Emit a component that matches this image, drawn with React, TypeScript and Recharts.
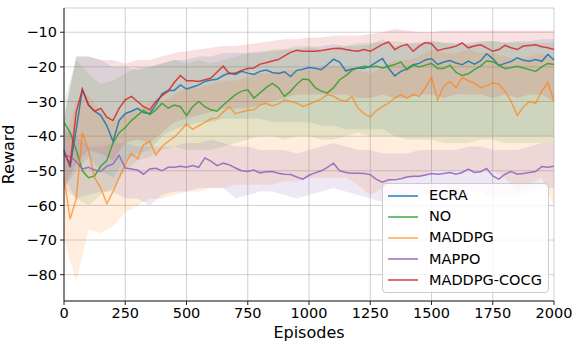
import { Area, CartesianGrid, ComposedChart, Line, XAxis, YAxis } from 'recharts'

// smoothed curves, one value every 25 episodes (0..2000)
const step = 25
const ecra = [
  -44, -49, -38, -26.5, -31, -32.8, -34, -37, -41.5, -35.5, -33.5, -32.8, -32, -33.2, -33.5, -31, -27.8, -26.8, -26.8, -25.2,
  -26.4, -25.8, -25.2, -24.2, -23.8, -23.6, -22.5, -21.8, -22.2, -21.3, -21.8, -22.2, -21.3, -20.9, -21.6, -21.9, -21.4, -22.8, -21, -20.7,
  -20.2, -20.4, -20.8, -19.4, -17.8, -18.6, -21.2, -20.6, -20.3, -20.4, -19.8, -18.6, -17.6, -20.4, -22.6, -21.3, -20.6, -19.4, -19, -18,
  -17.6, -19.3, -18.6, -18.2, -18.9, -19.4, -18.3, -19.2, -18.3, -16.2, -17.6, -19.6, -19, -18.4, -17.4, -18.1, -18.4, -17.9, -18.4, -16.4,
  -18,
]
const no = [
  -36, -39, -44, -50, -52, -51.5, -48.7, -47, -42, -39, -37.5, -35.5, -34, -32.5, -33.8, -32.4, -30.5, -31.9, -31, -31.5,
  -34, -31.5, -30, -31.5, -32.4, -32.8, -31, -29.5, -28, -27, -26.6, -29, -27.5, -26, -24.8, -26, -28.5, -27, -25, -23.5,
  -23.7, -26, -27, -27.5, -26, -23.7, -22.5, -21, -20.3, -19.8, -20, -19.8, -20.3, -19.8, -19.3, -18.6, -20.8, -19.5, -20, -19.5,
  -19, -20.5, -20.5, -19.5, -21.5, -22.5, -22, -20.8, -19.8, -18.3, -18.5, -19.5, -20.5, -20.2, -19.8, -20.3, -20.8, -21.3, -20, -19,
  -19.3,
]
const maddpg = [
  -52, -64, -58, -39, -44, -52, -55, -59.5, -56, -52, -48, -45, -46.5, -42.5, -41.5, -45.5, -43, -41.5, -40.3, -38.5,
  -36.5, -38, -37, -36, -35, -34.8, -33, -31.5, -33.5, -33, -32.6, -32.4, -31, -30.5, -31.3, -30.7, -29.5, -30, -30.4, -31.4,
  -30.8, -30, -29.3, -28, -28.5, -29.5, -30, -28.5, -31.9, -33.5, -34.5, -32.6, -31.5, -30.5, -29, -28, -29, -28, -28.5, -26,
  -23, -29.5, -25.6, -24.2, -26, -23, -24, -24.6, -26, -25.5, -24.5, -25, -27, -30, -34, -31.5, -30, -30.5, -27, -24.5,
  -30,
]
const mappo = [
  -45.3, -46, -47.3, -49.5, -49, -49.8, -50.2, -48.7, -48, -45.5, -49.2, -49.5, -49.8, -51, -49.5, -49.3, -50, -49, -49, -48.7,
  -49, -48.5, -49, -46.3, -47.2, -48.5, -47.8, -48.3, -49.2, -50, -50.2, -49.8, -50.6, -50.3, -50.2, -50.7, -51, -51.1, -51.8, -52.4,
  -51.3, -50.6, -50, -49, -47.8, -50, -50.5, -50.7, -50.7, -50.8, -51.1, -52.5, -53.3, -52.6, -52.6, -52.3, -51.8, -51.6, -51.6, -51.2,
  -50.8, -51, -50.8, -50.5, -51, -50.5, -49.5, -50.5, -50.3, -49.3, -51.5, -52.4, -51, -50.2, -51, -50.8, -50.5, -50.2, -48.8, -49,
  -48.7,
]
const cocg = [
  -45, -48, -33, -26.5, -31, -32.8, -32, -34.5, -35.5, -32, -29.5, -28.5, -30, -31.5, -32.4, -30, -28.3, -27, -24.5, -22.5,
  -24, -24, -24.2, -23.7, -23.2, -21.5, -19.8, -22, -21.8, -21, -20.5, -20.3, -19.2, -18.8, -18.3, -17.9, -16.8, -15.8, -15.2, -15.5,
  -15.5, -15.5, -15.3, -15, -14.7, -14.6, -15, -15.3, -15.5, -15, -15.5, -14.5, -13.5, -12.8, -15, -14, -13.5, -15.5, -14, -13,
  -13.3, -15.3, -14.8, -14.5, -14, -13.1, -14.5, -14, -13.6, -14.5, -15.5, -15, -13.8, -14.5, -15, -14, -13.8, -13.6, -14.2, -14.5,
  -15,
]

// spread of the raw (unsmoothed) runs, one low/high pair every 50 episodes
const bandStep = 50
const ecraLo = [-55, -50, -46, -50, -52, -47, -45, -44, -40, -38, -37, -36, -36, -35, -35, -35, -35, -36, -36, -36, -36, -37, -37, -38, -38, -38, -38, -40, -40, -40, -40, -40, -40, -40, -40, -40, -40, -40, -40, -40, -40]
const ecraHi = [-35, -17, -17, -18, -20, -20, -21, -20, -19, -18, -18, -17, -17, -16, -16, -16, -15.5, -15.5, -15, -15, -14.5, -14, -13.5, -14, -14, -13.5, -12, -14, -13.5, -13, -12.5, -13, -13, -13, -12.5, -12.5, -13, -12.5, -12.5, -12, -12]
const noLo = [-52, -58, -60, -57, -55, -50, -47, -46, -44, -43, -44, -44, -44, -43, -42, -41, -40, -40, -41, -40, -40, -41, -41, -40, -39, -40, -40, -40, -41, -41, -41, -42, -42, -42, -41, -41, -42, -42, -42, -42, -42]
const noHi = [-30, -18, -22, -25, -24, -22, -20, -20, -19, -18, -19, -18, -19, -18, -17, -16, -16, -15, -15, -14, -14, -15, -15, -14, -13, -13, -13, -12.5, -13, -13, -12.5, -13, -13.5, -13.5, -13, -12.5, -13, -13, -13, -13, -13]
const maddpgLo = [-70, -82, -67, -68, -66, -62, -60, -58, -58, -57, -56, -56, -55, -55, -54, -54, -54, -54, -53, -53, -52, -52, -52, -52, -54, -57, -55, -52, -52, -52, -50, -50, -50, -50, -50, -50, -52, -56, -54, -52, -60]
const maddpgHi = [-42, -30, -28, -33, -36, -33, -32, -30, -30, -28, -26, -26, -25, -24, -24, -23, -22, -22, -21, -21, -21, -20, -20, -20, -21, -22, -20, -18, -18, -17, -15, -16, -16, -15, -16, -16, -17, -18, -17, -16, -18]
const mappoLo = [-55, -58, -57, -56, -56, -58, -58, -60, -57, -56, -56, -55, -55, -55, -58, -57, -56, -56, -57, -58, -57, -56, -55, -56, -57, -58, -59, -58, -58, -57, -57, -57, -57, -56, -56, -58, -57, -57, -56, -55, -55]
const mappoHi = [-38, -40, -43, -43, -42, -42, -43, -43, -43, -43, -42, -42, -41, -42, -43, -43, -44, -44, -44, -45, -44, -43, -42, -43, -44, -44, -45, -45, -45, -44, -44, -44, -44, -43, -43, -44, -44, -44, -43, -42, -42]
const cocgLo = [-55, -48, -44, -45, -47, -42, -41, -42, -39, -36, -35, -34, -33, -32, -32, -32, -31, -30, -29, -28, -28, -28, -28, -28, -29, -29, -28, -29, -29, -28, -28, -29, -28, -28, -28, -29, -28, -29, -28, -28, -30]
const cocgHi = [-35, -17, -17, -18, -18, -19, -18, -18, -17, -16, -15.5, -15, -14.5, -14, -14, -13.5, -13, -12.5, -12, -12, -11.5, -11.5, -11, -11, -11, -10.5, -10, -9, -9.5, -10, -10, -9.5, -9.5, -9.5, -9.5, -9.5, -9.5, -9.5, -9.5, -9.5, -9.5]

const xTicks = [0, 250, 500, 750, 1000, 1250, 1500, 1750, 2000]
const yTicks = [-80, -70, -60, -50, -40, -30, -20, -10]

const series = [
  { key: 'ecra', name: 'ECRA', color: '#1f77b4', values: ecra, lo: ecraLo, hi: ecraHi, opacity: 0.9, band: 0.14 },
  { key: 'no', name: 'NO', color: '#2ca02c', values: no, lo: noLo, hi: noHi, opacity: 0.85, band: 0.13 },
  { key: 'maddpg', name: 'MADDPG', color: '#ff7f0e', values: maddpg, lo: maddpgLo, hi: maddpgHi, opacity: 0.65, band: 0.14 },
  { key: 'mappo', name: 'MAPPO', color: '#9467bd', values: mappo, lo: mappoLo, hi: mappoHi, opacity: 0.9, band: 0.16 },
  { key: 'cocg', name: 'MADDPG-COCG', color: '#d62728', values: cocg, lo: cocgLo, hi: cocgHi, opacity: 0.85, band: 0.14 },
]

const data = ecra.map((_, i) => {
  const row: Record<string, number | number[] | null> = { ep: i * step }
  const bi = (i * step) / bandStep
  series.forEach((s) => {
    row[s.key] = s.values[i]
    row[s.key + 'Band'] = Number.isInteger(bi) ? [s.lo[bi], s.hi[bi]] : null
  })
  return row
})

const font = 'DejaVu Sans, sans-serif'
const minus = (v: number) => String(v).replace('-', '\u2212')

function LegendBox() {
  return (
    <div
      style={{
        position: 'absolute',
        left: 382,
        top: 183,
        border: '1px solid #cccccc',
        borderRadius: 4,
        background: 'rgba(255,255,255,0.8)',
        padding: '1px 6px 1px 5px',
        fontFamily: font,
        fontSize: 14.5,
        color: '#000',
        lineHeight: '21.2px',
      }}
    >
      {series.map((s) => (
        <div key={s.key} style={{ display: 'flex', alignItems: 'center', height: 21.2 }}>
          <svg width={30} height={4} style={{ marginRight: 11 }}>
            <line x1={0} y1={2} x2={30} y2={2} stroke={s.color} strokeOpacity={s.opacity * 0.8} strokeWidth={2} />
          </svg>
          <span>{s.name}</span>
        </div>
      ))}
    </div>
  )
}

export default function App() {
  return (
    <div style={{ position: 'absolute', left: 0, top: 0, width: 581, height: 349, background: '#fff' }}>
      <ComposedChart width={581} height={349} data={data} margin={{ top: 8, right: 27, bottom: 0, left: 0 }}>
        <CartesianGrid stroke="#b0b0b0" strokeOpacity={0.6} strokeWidth={1} />
        <XAxis
          dataKey="ep"
          type="number"
          domain={[0, 2000]}
          ticks={xTicks}
          interval={0}
          height={48}
          tickSize={4}
          tickMargin={3}
          stroke="#222"
          tick={{ fill: '#000', fontSize: 14.5, fontFamily: font }}
          label={{ value: 'Episodes', position: 'insideBottom', offset: 11, fill: '#000', fontSize: 16, fontFamily: font }}
        />
        <YAxis
          type="number"
          domain={[-87.6, -3]}
          ticks={yTicks}
          interval={0}
          allowDataOverflow
          width={64}
          tickSize={4}
          tickMargin={3}
          stroke="#222"
          tickFormatter={minus}
          tick={{ fill: '#000', fontSize: 14.5, fontFamily: font }}
          label={{ value: 'Reward', angle: -90, position: 'insideLeft', offset: 8, fill: '#000', fontSize: 16, fontFamily: font, style: { textAnchor: 'middle' } }}
        />
        <XAxis xAxisId="top" orientation="top" type="number" domain={[0, 2000]} ticks={[]} height={0} stroke="#222" />
        <YAxis yAxisId="right" orientation="right" ticks={[]} width={0} stroke="#222" />
        {series.map((s) => (
          <Area
            key={s.key + 'Band'}
            dataKey={s.key + 'Band'}
            type="linear"
            stroke="none"
            fill={s.color}
            fillOpacity={s.band}
            connectNulls
            isAnimationActive={false}
            legendType="none"
            activeDot={false}
          />
        ))}
        {series.map((s) => (
          <Line
            key={s.key}
            dataKey={s.key}
            name={s.name}
            type="linear"
            stroke={s.color}
            strokeOpacity={s.opacity}
            strokeWidth={1.5}
            dot={false}
            isAnimationActive={false}
          />
        ))}
      </ComposedChart>
      <LegendBox />
    </div>
  )
}
